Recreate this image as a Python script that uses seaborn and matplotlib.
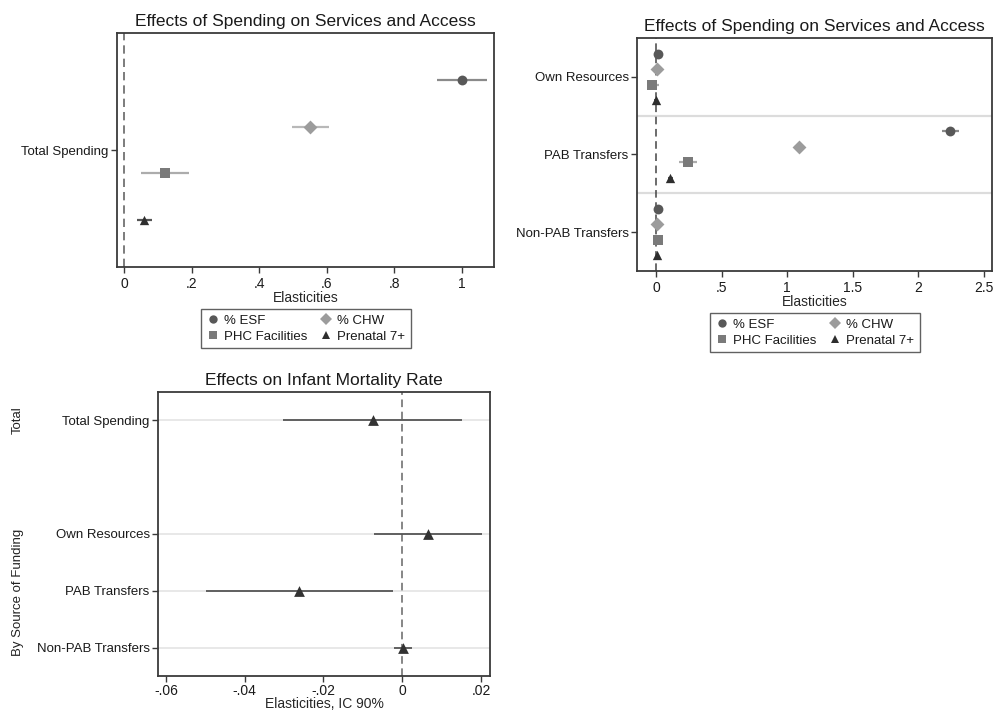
import numpy as np
import pandas as pd
import matplotlib
matplotlib.use("Agg")
import matplotlib.pyplot as plt
from matplotlib.lines import Line2D
import seaborn as sns

# ---- data -------------------------------------------------------------
indicators = ["% ESF", "% CHW", "PHC Facilities", "Prenatal 7+"]

# Total spending -> services and access
total_est = [1.000, 0.550, 0.119, 0.058]
total_lo = [0.928, 0.496, 0.049, 0.037]
total_hi = [1.074, 0.607, 0.191, 0.081]

# By source of funding -> services and access
sources = ["Own Resources", "PAB Transfers", "Non-PAB Transfers"]
own_est = [0.013, 0.005, -0.033, -0.005]
own_lo = [0.003, -0.005, -0.070, -0.018]
own_hi = [0.023, 0.015, 0.018, 0.008]
pab_est = [2.246, 1.090, 0.241, 0.107]
pab_lo = [2.185, 1.050, 0.175, 0.090]
pab_hi = [2.312, 1.130, 0.310, 0.124]
nonpab_est = [0.010, 0.005, 0.012, 0.005]
nonpab_lo = [0.002, -0.004, 0.002, -0.004]
nonpab_hi = [0.018, 0.014, 0.022, 0.014]

# Infant mortality rate
imr_labels = ["Total Spending", "Own Resources", "PAB Transfers", "Non-PAB Transfers"]
imr_est = [-0.0075, 0.0065, -0.0261, 0.0003]
imr_lo = [-0.0302, -0.0072, -0.0497, -0.0020]
imr_hi = [0.0153, 0.0202, -0.0024, 0.0026]

# ---- style ------------------------------------------------------------
sns.set_style("white")
plt.rcParams["font.family"] = ["Liberation Sans", "DejaVu Sans"]
plt.rcParams["axes.edgecolor"] = "#3a3a3a"
plt.rcParams["axes.linewidth"] = 1.3
plt.rcParams["text.color"] = "#1a1a1a"

marker_of = {"% ESF": "o", "% CHW": "D", "PHC Facilities": "s", "Prenatal 7+": "^"}
mcolor = {"% ESF": "#585858", "% CHW": "#9c9c9c", "PHC Facilities": "#7a7a7a", "Prenatal 7+": "#2e2e2e"}
lcolor = {"% ESF": "#8a8a8a", "% CHW": "#b8b8b8", "PHC Facilities": "#acacac", "Prenatal 7+": "#555555"}
msize = {"% ESF": 50, "% CHW": 50, "PHC Facilities": 45, "Prenatal 7+": 45}

W, H = 995, 710
fig = plt.figure(figsize=(W / 100, H / 100), dpi=100)


def px_axes(left, top, right, bottom):
    return fig.add_axes([left / W, 1 - bottom / H, (right - left) / W, (bottom - top) / H])


def style_axes(ax, xpad=4):
    ax.tick_params(axis="both", which="both", direction="out", length=4, width=1,
                   color="#3a3a3a", labelcolor="#1a1a1a", left=True, bottom=True)
    ax.tick_params(axis="x", labelsize=10, pad=xpad)
    ax.tick_params(axis="y", labelsize=9.5, pad=2)
    for s in ax.spines.values():
        s.set_color("#3a3a3a")


def draw_points(ax, frame):
    for name in indicators:
        d = frame[frame["indicator"] == name]
        ax.hlines(d["pos"], d["lo"], d["hi"], color=lcolor[name], lw=1.6, zorder=2)
        sns.scatterplot(data=d, x="est", y="pos", marker=marker_of[name],
                        color=mcolor[name], s=msize[name], linewidth=0,
                        ax=ax, zorder=3, legend=False)


def add_legend(ax, xc, ytop):
    # legend entries read row by row: ESF, CHW / PHC, Prenatal
    order = [indicators[0], indicators[2], indicators[1], indicators[3]]
    handles = [Line2D([], [], ls="none", marker=marker_of[n], color=mcolor[n],
                      markersize=6 if n != "% CHW" else 6.5, markeredgewidth=0)
               for n in order]
    leg = fig.legend(handles, order, ncol=2, loc="upper center",
                     bbox_to_anchor=(xc / W, 1 - ytop / H), frameon=True,
                     fancybox=False, edgecolor="#3a3a3a", fontsize=9.5,
                     handletextpad=0.35, columnspacing=0.9, handlelength=1.0,
                     borderpad=0.4, labelspacing=0.3, borderaxespad=0)
    leg.get_frame().set_linewidth(1.0)


# ---- top left: total spending ------------------------------------------
ax1 = px_axes(117, 33, 494, 267)
df1 = pd.DataFrame({"indicator": indicators, "est": total_est, "lo": total_lo,
                    "hi": total_hi, "pos": np.arange(1, 5)})
ax1.axvline(0, color="#666666", lw=1.2, ls=(0, (5, 3)), zorder=1)
draw_points(ax1, df1)
ax1.set_xlim(-0.022, 1.096)
ax1.set_ylim(5, 0)
ax1.set_xticks([0, 0.2, 0.4, 0.6, 0.8, 1.0])
ax1.set_xticklabels(["0", ".2", ".4", ".6", ".8", "1"])
ax1.set_yticks([2.5])
ax1.set_yticklabels(["Total Spending"])
ax1.set_xlabel("Elasticities", fontsize=10, labelpad=0)
ax1.set_ylabel("")
ax1.set_title("Effects of Spending on Services and Access", fontsize=12.5, pad=5)
style_axes(ax1, xpad=3)
add_legend(ax1, 306, 309)

# ---- top right: by source of funding ------------------------------------
ax2 = px_axes(637, 38, 992, 271)
rows = []
for g, (src, est, lo, hi) in enumerate(zip(sources, [own_est, pab_est, nonpab_est],
                                            [own_lo, pab_lo, nonpab_lo],
                                            [own_hi, pab_hi, nonpab_hi])):
    for i, name in enumerate(indicators):
        rows.append({"source": src, "indicator": name, "est": est[i], "lo": lo[i],
                     "hi": hi[i], "pos": 1 + 5 * g + i})
df2 = pd.DataFrame(rows)
for sep in (5, 10):
    ax2.axhline(sep, color="#dcdcdc", lw=1.6, zorder=1)
ax2.axvline(0, color="#444444", lw=1.1, ls=(0, (5, 3)), zorder=1)
draw_points(ax2, df2)
ax2.set_xlim(-0.147, 2.563)
ax2.set_ylim(15, 0)
ax2.set_xticks([0, 0.5, 1, 1.5, 2, 2.5])
ax2.set_xticklabels(["0", ".5", "1", "1.5", "2", "2.5"])
ax2.set_yticks([2.5, 7.5, 12.5])
ax2.set_yticklabels(sources)
ax2.set_xlabel("Elasticities", fontsize=10, labelpad=0)
ax2.set_ylabel("")
ax2.set_title("Effects of Spending on Services and Access", fontsize=12.5, pad=5)
style_axes(ax2, xpad=3)
add_legend(ax2, 815, 313)

# ---- bottom: infant mortality rate ---------------------------------------
ax3 = px_axes(158, 392, 490, 676)
imr_pos = [1, 3, 4, 5]
df3 = pd.DataFrame({"label": imr_labels, "est": imr_est, "lo": imr_lo,
                    "hi": imr_hi, "pos": imr_pos})
for p in imr_pos:
    ax3.axhline(p, color="#e6e6e6", lw=1.3, zorder=0)
ax3.axvline(0, color="#666666", lw=1.1, ls=(0, (5, 3)), zorder=1)
ax3.hlines(df3["pos"], df3["lo"], df3["hi"], color="#555555", lw=1.3, zorder=2)
sns.scatterplot(data=df3, x="est", y="pos", marker="^", color="#333333",
                s=60, linewidth=0, ax=ax3, zorder=3, legend=False)
ax3.set_xlim(-0.062, 0.0223)
ax3.set_ylim(5.5, 0.5)
ax3.set_xticks([-0.06, -0.04, -0.02, 0, 0.02])
ax3.set_xticklabels(["-.06", "-.04", "-.02", "0", ".02"])
ax3.set_yticks(imr_pos)
ax3.set_yticklabels(imr_labels)
ax3.set_xlabel("Elasticities, IC 90%", fontsize=10, labelpad=-1)
ax3.set_ylabel("")
ax3.set_title("Effects on Infant Mortality Rate", fontsize=12.5, pad=5)
style_axes(ax3, xpad=2)

fig.text(18 / W, 1 - 420 / H, "Total", rotation=90, ha="center", va="center",
         fontsize=9.5, color="#222222")
fig.text(18 / W, 1 - 592 / H, "By Source of Funding", rotation=90, ha="center",
         va="center", fontsize=9.5, color="#222222")

fig.savefig("out.png", dpi=100, facecolor="white")
